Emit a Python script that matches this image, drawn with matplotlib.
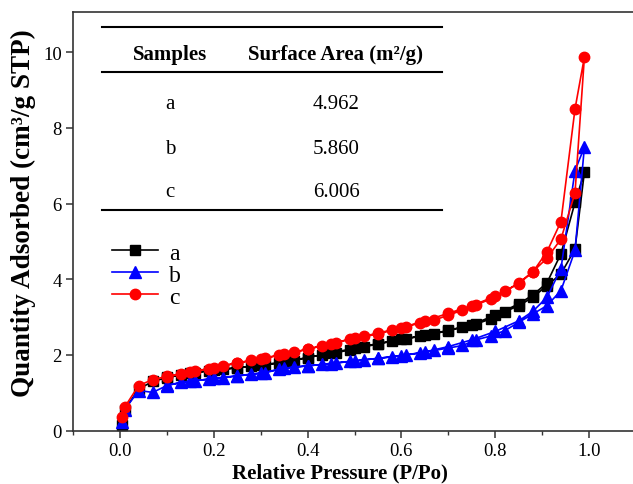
import matplotlib
matplotlib.use("Agg")
import matplotlib.pyplot as plt
from matplotlib.lines import Line2D
from matplotlib.ticker import MultipleLocator

# ---- data ----
x_ads = [0.005, 0.01, 0.04, 0.07, 0.10, 0.13, 0.16, 0.19, 0.22, 0.25, 0.28, 0.31,
         0.34, 0.37, 0.40, 0.43, 0.46, 0.49, 0.52, 0.55, 0.58, 0.61, 0.64, 0.67,
         0.70, 0.73, 0.76, 0.79, 0.82, 0.85, 0.88, 0.91, 0.94, 0.97, 0.99]
x_des = [0.97, 0.94, 0.91, 0.88, 0.85, 0.80, 0.75, 0.70, 0.65, 0.60, 0.55, 0.50,
         0.45, 0.40, 0.35, 0.30, 0.25, 0.20, 0.15, 0.10]

a_ads = [0.15, 0.55, 1.10, 1.30, 1.40, 1.47, 1.53, 1.58, 1.62, 1.66, 1.70, 1.74,
         1.78, 1.85, 1.93, 2.00, 2.06, 2.13, 2.21, 2.29, 2.36, 2.43, 2.49, 2.56,
         2.64, 2.73, 2.82, 2.95, 3.14, 3.30, 3.52, 3.83, 4.14, 4.80, 6.83]
a_des = [6.03, 4.67, 3.90, 3.58, 3.35, 3.05, 2.80, 2.65, 2.52, 2.41, 2.30, 2.18,
         2.05, 1.93, 1.82, 1.73, 1.66, 1.60, 1.52, 1.41]

b_ads = [0.22, 0.55, 1.06, 1.01, 1.19, 1.28, 1.32, 1.36, 1.40, 1.44, 1.49, 1.53,
         1.62, 1.68, 1.71, 1.75, 1.79, 1.83, 1.87, 1.91, 1.95, 2.00, 2.05, 2.12,
         2.18, 2.25, 2.40, 2.50, 2.64, 2.86, 3.08, 3.30, 3.70, 4.76, 7.49]
b_des = [6.87, 4.27, 3.52, 3.15, 2.90, 2.62, 2.40, 2.22, 2.08, 1.98, 1.91, 1.84,
         1.77, 1.71, 1.65, 1.52, 1.45, 1.38, 1.30, 1.20]

c_ads = [0.35, 0.62, 1.19, 1.35, 1.43, 1.50, 1.57, 1.64, 1.72, 1.79, 1.86, 1.92,
         1.99, 2.07, 2.15, 2.24, 2.32, 2.42, 2.49, 2.58, 2.66, 2.75, 2.84, 2.92,
         3.05, 3.18, 3.32, 3.48, 3.68, 3.90, 4.20, 4.55, 5.06, 6.28, 9.87]
c_des = [8.50, 5.52, 4.72, 4.19, 3.88, 3.55, 3.30, 3.10, 2.90, 2.72, 2.55, 2.44,
         2.30, 2.15, 2.02, 1.90, 1.78, 1.66, 1.55, 1.42]

samples = ["a", "b", "c"]
surface_area = ["4.962", "5.860", "6.006"]
table_header = ["Samples", "Surface Area (m²/g)"]

colors = ["black", "#0000FF", "#FF0000"]
markers = ["s", "^", "o"]

serif = "Liberation Serif"

W, H = 633, 485
fig = plt.figure(figsize=(W / 100, H / 100), dpi=100)
ax = fig.add_axes([73 / W, 53 / H, (636 - 73) / W, (432 - 13) / H])

series = [(a_ads, a_des), (b_ads, b_des), (c_ads, c_des)]
for (ads, des), col, mk, lab in zip(series, colors, markers, samples):
    xs = list(x_ads) + list(x_des)
    ys = list(ads) + list(des)
    ax.plot(xs, ys, color=col, marker=mk, markersize=7.5 if mk != "^" else 8,
            linewidth=1.2, label=lab)

ax.set_xlim(-0.1, 1.1)
ax.set_ylim(-0.01, 11.06)
ax.xaxis.set_minor_locator(MultipleLocator(0.1))
ax.set_xticks([0.0, 0.2, 0.4, 0.6, 0.8, 1.0])
ax.set_xticklabels(["0.0", "0.2", "0.4", "0.6", "0.8", "1.0"])
ax.set_yticks([0, 2, 4, 6, 8, 10])
ax.set_yticklabels(["0", "2", "4", "6", "8", "10"])
ax.tick_params(which="major", direction="out", length=5, width=1.1,
               labelsize=13.5, color="#333333", pad=3)
ax.tick_params(which="minor", direction="out", length=3, width=1.0, color="#333333")
for lbl in ax.get_xticklabels() + ax.get_yticklabels():
    lbl.set_fontfamily(serif)
for sp in ax.spines.values():
    sp.set_linewidth(1.2)
    sp.set_color("#333333")

ax.set_xlabel("Relative Pressure (P/Po)", fontsize=15, fontweight="bold",
              fontfamily=serif, labelpad=1)
ax.xaxis.set_label_coords((340 - 73) / (636 - 73), -0.075)
ax.set_ylabel("Quantity Adsorbed (cm³/g STP)", fontsize=19.5,
              fontweight="bold", fontfamily=serif, labelpad=2)
ax.yaxis.set_label_coords(-0.065, (432 - 213) / (432 - 13))

leg = ax.legend(loc="upper left",
                bbox_to_anchor=((112 - 73) / (636 - 73), (432 - 243) / (432 - 13)),
                frameon=False, prop={"family": serif, "size": 17},
                handlelength=1.95, handletextpad=0.45, labelspacing=0.02,
                borderaxespad=0, borderpad=0)

# ---- table ----
def fx(px):
    return px / W

def fy(py):
    return 1 - py / H

for yy in (28.3, 73.3, 211):
    fig.add_artist(Line2D([fx(102), fx(442)], [fy(yy), fy(yy)], color="black",
                          linewidth=1.5))
fig.text(fx(170), fy(55), table_header[0], ha="center", va="center",
         fontsize=15, fontweight="bold", fontfamily=serif)
fig.text(fx(336), fy(55), table_header[1], ha="center", va="center",
         fontsize=15, fontweight="bold", fontfamily=serif)
for s, v, yy in zip(samples, surface_area, (104.3, 149, 192.3)):
    fig.text(fx(170), fy(yy), s, ha="center", va="center", fontsize=15,
             fontfamily=serif)
    fig.text(fx(336), fy(yy), v, ha="center", va="center", fontsize=15,
             fontfamily=serif)

fig.savefig("out.png", dpi=100)
